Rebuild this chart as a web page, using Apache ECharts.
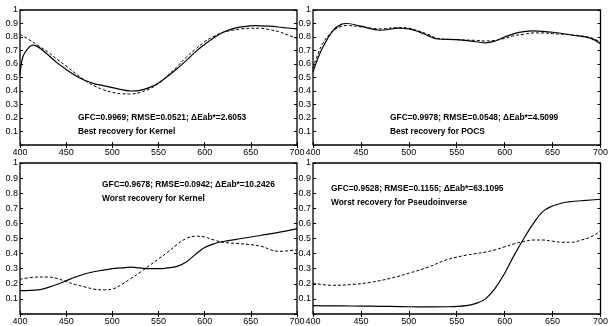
<!DOCTYPE html>
<html lang="en">
<head>
  <meta charset="UTF-8">
  <title>Spectral recovery</title>
  <style>
    body { margin: 0; padding: 0; background: #fff; }
    #chart { width: 611px; height: 326px; }
  </style>
</head>
<body>
  <div id="chart"></div>
  <script src="https://cdn.jsdelivr.net/npm/echarts@6/dist/echarts.min.js"></script>
  <script>
    // tick positions
    const xTicks = [400, 450, 500, 550, 600, 650, 700];
    const yLabels = [0.1, 0.2, 0.3, 0.4, 0.5, 0.6, 0.7, 0.8, 0.9];
    const yTopLabel = '1';

    // panel 1: best recovery for Kernel
    const wlA = [400, 403, 408, 414, 420, 430, 440, 450, 460, 470, 480, 490, 500, 510, 520, 530, 540, 550, 560, 570, 580, 590, 600, 610, 620, 630, 640, 655, 670, 685, 700];
    const solidA = [0.52, 0.65, 0.71, 0.74, 0.725, 0.67, 0.61, 0.56, 0.515, 0.48, 0.455, 0.44, 0.425, 0.41, 0.40, 0.405, 0.425, 0.46, 0.51, 0.565, 0.625, 0.69, 0.745, 0.795, 0.835, 0.86, 0.875, 0.885, 0.88, 0.87, 0.86];
    const wlA2 = [400, 410, 420, 430, 440, 450, 460, 470, 480, 490, 500, 510, 520, 530, 540, 550, 560, 570, 580, 590, 600, 610, 620, 630, 640, 650, 660, 670, 680, 690, 700];
    const dashA = [0.82, 0.78, 0.735, 0.69, 0.635, 0.585, 0.53, 0.48, 0.44, 0.41, 0.39, 0.38, 0.378, 0.39, 0.415, 0.455, 0.515, 0.58, 0.65, 0.71, 0.765, 0.805, 0.835, 0.85, 0.86, 0.865, 0.865, 0.855, 0.84, 0.815, 0.79];

    // panel 2: best recovery for POCS
    const wlB = [400, 405, 410, 420, 430, 435, 450, 470, 490, 500, 510, 520, 530, 550, 570, 580, 590, 600, 610, 620, 630, 640, 650, 670, 690, 700];
    const solidB = [0.54, 0.64, 0.72, 0.84, 0.895, 0.9, 0.88, 0.85, 0.865, 0.86, 0.84, 0.81, 0.785, 0.78, 0.765, 0.757, 0.77, 0.8, 0.825, 0.84, 0.845, 0.842, 0.835, 0.815, 0.79, 0.75];
    const dashB = [0.57, 0.67, 0.75, 0.84, 0.88, 0.885, 0.875, 0.86, 0.87, 0.865, 0.845, 0.82, 0.79, 0.78, 0.775, 0.77, 0.775, 0.79, 0.81, 0.82, 0.83, 0.83, 0.825, 0.815, 0.795, 0.76];

    // panel 3: worst recovery for Kernel
    const wlC = [400, 420, 430, 440, 450, 460, 470, 480, 490, 500, 510, 520, 530, 540, 550, 560, 570, 580, 590, 600, 610, 620, 640, 660, 680, 700];
    const solidC = [0.155, 0.16, 0.175, 0.195, 0.22, 0.245, 0.265, 0.28, 0.29, 0.3, 0.305, 0.31, 0.305, 0.3, 0.3, 0.305, 0.315, 0.345, 0.395, 0.44, 0.465, 0.48, 0.5, 0.52, 0.54, 0.565];
    const dashC = [0.23, 0.245, 0.245, 0.235, 0.215, 0.195, 0.18, 0.165, 0.16, 0.165, 0.195, 0.235, 0.275, 0.32, 0.365, 0.41, 0.46, 0.5, 0.515, 0.51, 0.49, 0.475, 0.465, 0.45, 0.415, 0.425];

    // panel 4: worst recovery for Pseudoinverse
    const wlD = [400, 420, 440, 460, 480, 500, 520, 540, 560, 570, 580, 590, 600, 610, 620, 630, 640, 650, 660, 670, 680, 690, 700];
    const solidD = [0.055, 0.054, 0.053, 0.052, 0.05, 0.048, 0.047, 0.048, 0.055, 0.07, 0.1, 0.17, 0.27, 0.39, 0.5, 0.6, 0.68, 0.715, 0.735, 0.745, 0.75, 0.755, 0.76];
    const dashD = [0.205, 0.19, 0.195, 0.21, 0.235, 0.27, 0.31, 0.36, 0.39, 0.4, 0.41, 0.425, 0.445, 0.465, 0.48, 0.49, 0.49, 0.482, 0.475, 0.475, 0.49, 0.51, 0.55];

    const notes = [
      ['GFC=0.9969; RMSE=0.0521; \u0394Eab*=2.6053', 'Best recovery for Kernel'],
      ['GFC=0.9978; RMSE=0.0548; \u0394Eab*=4.5099', 'Best recovery for POCS'],
      ['GFC=0.9678; RMSE=0.0942; \u0394Eab*=10.2426', 'Worst recovery for Kernel'],
      ['GFC=0.9528; RMSE=0.1155; \u0394Eab*=63.1095', 'Worst recovery for Pseudoinverse']
    ];

    const panels = [
      { wlS: wlA, s: solidA, wlD: wlA2, d: dashA },
      { wlS: wlB, s: solidB, wlD: wlB, d: dashB },
      { wlS: wlC, s: solidC, wlD: wlC, d: dashC },
      { wlS: wlD, s: solidD, wlD: wlD, d: dashD }
    ];

    const grids = [
      { left: 20, top: 10, width: 277, height: 135 },
      { left: 313, top: 10, width: 292, height: 135 },
      { left: 20, top: 163, width: 277, height: 151 },
      { left: 313, top: 163, width: 292, height: 151 }
    ];
    const notePos = [[78, 111], [390, 111], [102, 178], [331, 182]];

    const font = 'Liberation Sans, Arial, Helvetica, sans-serif';
    const xAxes = [], yAxes = [], series = [], graphic = [];

    grids.forEach((g, i) => {
      g.show = true;
      g.borderColor = '#000';
      g.borderWidth = 1.3;
      g.backgroundColor = 'transparent';
      const base = { gridIndex: i, type: 'value', min: 400, max: 700, interval: 50,
        axisLine: { show: false }, splitLine: { show: false },
        axisTick: { inside: true, length: 3, lineStyle: { color: '#000' } } };
      xAxes.push(Object.assign({}, base, { position: 'bottom',
        axisLabel: { color: '#000', fontSize: 9, fontFamily: font, margin: 3,
          customValues: xTicks } }));
      xAxes.push(Object.assign({}, base, { position: 'top', axisLabel: { show: false } }));
      const ybase = { gridIndex: i, type: 'value', min: 0, max: 1, interval: 0.1,
        axisLine: { show: false }, splitLine: { show: false },
        axisTick: { inside: true, length: 3, lineStyle: { color: '#000' } } };
      yAxes.push(Object.assign({}, ybase, { position: 'left',
        axisLabel: { color: '#000', fontSize: 9, fontFamily: font, margin: 2,
          customValues: yLabels,
          formatter: v => String(Math.round(v * 10) / 10) } }));
      yAxes.push(Object.assign({}, ybase, { position: 'right', axisLabel: { show: false } }));

      const p = panels[i];
      series.push({ type: 'line', xAxisIndex: 2 * i, yAxisIndex: 2 * i, smooth: 0.4,
        showSymbol: false, lineStyle: { color: '#000', width: 1.2, type: 'solid' },
        data: p.wlS.map((w, k) => [w, p.s[k]]) });
      series.push({ type: 'line', xAxisIndex: 2 * i, yAxisIndex: 2 * i, smooth: 0.4,
        showSymbol: false, lineStyle: { color: '#000', width: 1, type: [3, 2] },
        data: p.wlD.map((w, k) => [w, p.d[k]]) });

      graphic.push({ type: 'text', left: notePos[i][0], top: notePos[i][1],
        style: { text: notes[i].join('\n'), fill: '#000', font: 'bold 8.4px ' + font, lineHeight: 13.5 } });
      // top tick label of the y axis
      graphic.push({ type: 'text', x: g.left - 2, y: g.top,
        style: { text: yTopLabel, fill: '#000', font: '9px ' + font, align: 'right', verticalAlign: 'middle' } });
    });

    const chart = echarts.init(document.getElementById('chart'));
    chart.setOption({
      animation: false,
      backgroundColor: '#fff',
      grid: grids,
      xAxis: xAxes,
      yAxis: yAxes,
      series: series,
      graphic: graphic
    });
  </script>
</body>
</html>
